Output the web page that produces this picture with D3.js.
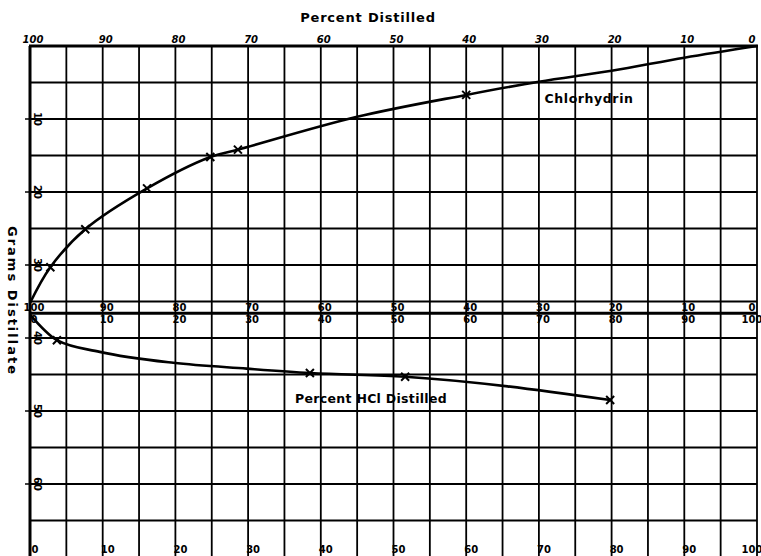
<!DOCTYPE html>
<html>
<head>
<meta charset="utf-8">
<script src="https://cdn.jsdelivr.net/npm/d3@7"></script>
<style>
  body { margin: 0; background: #fff; }
  text { font-family: "DejaVu Sans", sans-serif; font-weight: bold; fill: #000; }
</style>
</head>
<body>
<svg id="chart" width="761" height="556"></svg>
<script>
'use strict';

// chlorhydrin curve: [percent distilled, grams distillate]
const chlorCurve = [[0, 0], [10, 1.6], [20, 3.4], [30, 4.9], [40, 6.7], [55, 9.7],
    [71.4, 14.2], [75.2, 15.2], [83.9, 19.5], [92.4, 25.1], [97.2, 30.3], [100, 35.2]];
const chlorMarks = [[40, 6.7], [71.4, 14.2], [75.2, 15.2], [83.9, 19.5], [92.4, 25.1], [97.2, 30.3]];

// HCl curve: [percent HCl distilled, grams distillate]
const hclCurve = [[0, 36.8], [3.7, 40.3], [9.6, 41.9], [19.7, 43.4], [29.8, 44.2],
    [38.5, 44.8], [51.6, 45.3], [79.8, 48.5]];
const hclMarks = [[3.7, 40.3], [38.5, 44.8], [51.6, 45.3], [79.8, 48.5]];

const topTicks = [100, 90, 80, 70, 60, 50, 40, 30, 20, 10, 0];
const hclTicks = [0, 10, 20, 30, 40, 50, 60, 70, 80, 90, 100];
const gramTicks = [10, 20, 30, 40, 50, 60];
const hclAxisGrams = 36.6;

(function () {
    const svg = d3.select("#chart");

    const xPct = d3.scaleLinear().domain([100, 0]).range([30, 757]);
    const xHcl = d3.scaleLinear().domain([0, 100]).range([30, 757]);
    const y = d3.scaleLinear().domain([0, 70]).range([46, 557]);

    // keep labels at the right edge inside the picture
    function labX(px, off) {
        return Math.min(px + off, 752);
    }

    // grid
    const grid = svg.append("g").attr("stroke", "#000").attr("stroke-width", 1.8);
    grid.selectAll(".v").data(d3.range(0, 101, 5)).enter().append("line")
        .attr("x1", d => xHcl(d)).attr("x2", d => xHcl(d))
        .attr("y1", y(0)).attr("y2", y(70));
    grid.selectAll(".h").data(d3.range(0, 71, 5)).enter().append("line")
        .attr("x1", xHcl(0)).attr("x2", xHcl(100))
        .attr("y1", d => y(d)).attr("y2", d => y(d));

    // heavier frame lines
    svg.append("line").attr("x1", xHcl(0) - 1).attr("x2", xHcl(100) + 1)
        .attr("y1", y(0)).attr("y2", y(0)).attr("stroke", "#000").attr("stroke-width", 3);
    svg.append("line").attr("x1", xHcl(0)).attr("x2", xHcl(0))
        .attr("y1", y(0)).attr("y2", y(70)).attr("stroke", "#000").attr("stroke-width", 3);
    svg.append("line").attr("x1", xHcl(0)).attr("x2", xHcl(100))
        .attr("y1", y(hclAxisGrams)).attr("y2", y(hclAxisGrams))
        .attr("stroke", "#000").attr("stroke-width", 3);

    // title
    svg.append("text").attr("x", 368).attr("y", 22).attr("text-anchor", "middle")
        .style("font-size", "13px").style("letter-spacing", "0.8px").text("Percent Distilled");

    // top tick labels
    svg.selectAll(".tt").data(topTicks).enter().append("text")
        .attr("x", d => labX(xPct(d), 3)).attr("y", 43).attr("text-anchor", "middle")
        .style("font-size", "10px").style("font-style", "italic").text(d => d);

    // middle axis labels (two rows)
    svg.selectAll(".mt").data(topTicks).enter().append("text")
        .attr("x", d => labX(xPct(d), 4)).attr("y", y(hclAxisGrams) - 2).attr("text-anchor", "middle")
        .style("font-size", "10px").text(d => d);
    svg.selectAll(".mb").data(hclTicks).enter().append("text")
        .attr("x", d => labX(xHcl(d), 4)).attr("y", y(hclAxisGrams) + 10).attr("text-anchor", "middle")
        .style("font-size", "10px").text(d => d);

    // bottom tick labels
    svg.selectAll(".bt").data(hclTicks).enter().append("text")
        .attr("x", d => labX(xHcl(d), 5)).attr("y", 553).attr("text-anchor", "middle")
        .style("font-size", "10px").text(d => d);

    // left gram labels, rotated
    svg.selectAll(".gl").data(gramTicks).enter().append("text")
        .attr("transform", d => "translate(33," + y(d) + ") rotate(90)")
        .attr("text-anchor", "middle").attr("y", -1)
        .style("font-size", "10px").text(d => d);
    svg.selectAll(".gt").data(gramTicks).enter().append("line")
        .attr("x1", 25).attr("x2", 30).attr("y1", d => y(d)).attr("y2", d => y(d))
        .attr("stroke", "#000").attr("stroke-width", 1.5);

    // y title
    svg.append("text").attr("transform", "translate(8,301) rotate(90)")
        .attr("text-anchor", "middle").style("font-size", "13px").style("letter-spacing", "2px")
        .text("Grams Distillate");

    // curves
    const chlorLine = d3.line().x(d => xPct(d[0])).y(d => y(d[1])).curve(d3.curveCatmullRom.alpha(0.5));
    svg.append("path").datum(chlorCurve).attr("d", chlorLine)
        .attr("fill", "none").attr("stroke", "#000").attr("stroke-width", 2.6);

    const hclLine = d3.line().x(d => xHcl(d[0])).y(d => y(d[1])).curve(d3.curveMonotoneX);
    svg.append("path").datum(hclCurve).attr("d", hclLine)
        .attr("fill", "none").attr("stroke", "#000").attr("stroke-width", 2.6);

    // markers
    function cross(g, px, py) {
        g.append("path")
            .attr("d", "M" + (px - 4) + "," + (py - 4) + "L" + (px + 4) + "," + (py + 4)
                + "M" + (px - 4) + "," + (py + 4) + "L" + (px + 4) + "," + (py - 4))
            .attr("stroke", "#000").attr("stroke-width", 2);
    }
    const marks = svg.append("g");
    chlorMarks.forEach(d => cross(marks, xPct(d[0]), y(d[1])));
    hclMarks.forEach(d => cross(marks, xHcl(d[0]), y(d[1])));

    // curve labels
    const lab1 = svg.append("text").attr("x", 589).attr("y", 103).attr("text-anchor", "middle")
        .style("font-size", "12.5px").style("letter-spacing", "0.6px").text("Chlorhydrin");
    const lab2 = svg.append("text").attr("x", 371).attr("y", 403).attr("text-anchor", "middle")
        .style("font-size", "12.5px").style("letter-spacing", "0.3px").text("Percent HCl Distilled");
    [lab1, lab2].forEach(t => t.lower());
    svg.selectAll("g").lower();
})();
</script>
</body>
</html>
